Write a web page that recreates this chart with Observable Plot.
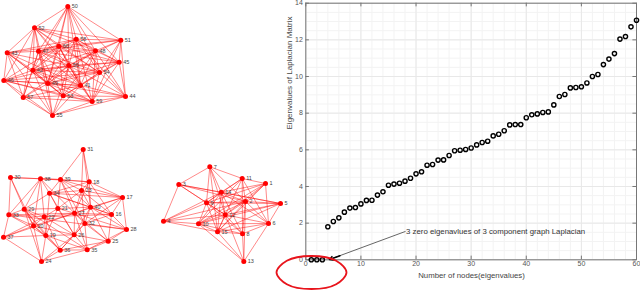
<!DOCTYPE html>
<html>
<head>
<meta charset="utf-8">
<script src="https://cdn.jsdelivr.net/npm/d3@7"></script>
<script src="https://cdn.jsdelivr.net/npm/@observablehq/plot@0.6"></script>
<style>
html,body{margin:0;padding:0;background:#fff}
#wrap{position:relative;width:640px;height:290px;overflow:hidden}
#wrap svg{position:absolute;left:0;top:0;background:transparent}
</style>
</head>
<body>
<div id="wrap"></div>
<script>
// Scatter: sorted Laplacian eigenvalues
const eigenvalues = [0,0,0,1.8,2.09,2.29,2.6,2.82,2.85,3.05,3.24,3.25,3.53,3.71,4.07,4.13,4.18,4.29,4.45,4.69,
  4.8,5.16,5.2,5.44,5.45,5.69,5.95,5.98,6.02,6.1,6.27,6.4,6.47,6.76,6.85,7.04,7.36,7.38,7.38,7.75,
  7.91,7.96,8.04,8.07,8.45,8.91,9.02,9.38,9.4,9.44,9.65,10.0,10.11,10.65,10.95,11.25,12.04,12.18,12.71,13.07];
const xTicks = [0,10,20,30,40,50,60];
const yTicks = [0,2,4,6,8,10,12,14];
const xMinor = d3.range(0,61,2);
const yMinor = d3.range(0,14.01,0.5);
const annotation = "3 zero eigenavlues of 3 component graph Laplacian";

// Network layout: node id, position on the drawing
const nodes = [
 [50,67.3,6],[52,34,27.3],[58,75.7,38.7],[51,120.3,39.7],[60,58.3,45.7],[47,38,50.7],[48,95,50.3],[43,6.7,52.3],[45,118.7,61.7],[56,68.3,65],
 [42,32.3,69.7],[54,99,72],[46,3.3,80],[49,47.3,83],[41,80,85],[57,22.7,97],[53,62.7,95.3],[44,125,96],[59,91.7,101],[55,52,115],
 [31,82.7,149],[30,10,177],[38,40,178.3],[39,60,179],[18,88.7,181.3],[23,81,190],[34,49,192.7],[17,122,197],[29,23.7,208.7],[21,57.3,208],
 [40,90,206.7],[28,126,229],[25,107.7,240.7],[16,111,214],[37,3,236.7],[24,41,261],[36,59.7,249.7],[35,86.7,249.3],[26,73.7,234.3],[32,84.3,223],
 [19,45.3,235],[20,33,225.3],[22,43.7,216.3],[33,8.3,214.3],[27,74,212.7],
 [7,209.3,166.3],[11,241.7,178],[1,265,183],[3,178.3,184],[14,220.7,191.7],[9,206,202.3],[2,245,201],[5,280,203],[12,224.7,214.3],[4,163,220.7],
 [10,198,223.3],[15,217,231.3],[8,242,233.3],[6,268,223],[13,243.3,261]
];
const edgesA = [
 [50,[52,47,60,58,56,48,51,45,41,49,54,42]],
 [52,[58,51,60,47,48,43,42,49,56,41,57,46,54]],
 [58,[51,60,47,48,45,56,42,54,41,44,49,59,43]],
 [51,[60,48,45,54,56,44,59,47]],
 [60,[47,48,45,43,56,42,41,49,54,59,53,46]],
 [47,[48,43,56,42,54,41,49,57,53,55,45]],
 [48,[45,56,54,41,44,59,49,42,53]],
 [43,[56,42,46,49,57,41,55,53]],
 [45,[56,54,41,44,59,42,49]],
 [56,[42,54,46,49,41,57,53,44,59,55]],
 [42,[54,46,49,41,57,53,55,59]],
 [54,[49,41,44,59,53,46]],
 [46,[49,41,57,53,55,59]],
 [49,[41,57,53,59,55,44]],
 [41,[57,53,44,59,55]],
 [57,[53,55,59]],
 [53,[59,55,44]],
 [44,[59,55]],
 [59,[55]]
];
const edgesB = [
 [31,[39,18,23,40]],
 [30,[38,33,29,20,39]],
 [38,[39,18,34,29,22,20,33,27]],
 [39,[18,23,34,21,40,27,17,32]],
 [18,[23,40,17,16,34,27]],
 [23,[34,40,27,17,32,16,21]],
 [34,[21,29,40,17,26,19,16]],
 [17,[40,16,28,27,32]],
 [29,[33,21,22,20,19,36,35]],
 [21,[22,27,26,19,40]],
 [40,[27,16,32,25,28,26]],
 [28,[16,25,35,32,27,33]],
 [25,[35,26,32,36,16,27]],
 [16,[27,32,22]],
 [37,[33,20,19,24,22,27]],
 [24,[20,19,36,35,26,29]],
 [36,[19,35,26,20,22,32]],
 [35,[26,32,19,27]],
 [26,[19,32,22,27,20]],
 [33,[20,22,27,19]],
 [20,[22,19,27]],
 [22,[27,19]],
 [27,[32]]
];
const edgesC = [
 [7,[3,11,14,9,12,15,2]],
 [11,[1,14,2,9,8,6,10,15]],
 [1,[14,2,9,12,10,6,15]],
 [3,[14,9,2,4,12,5]],
 [14,[9,2,12,15,10,5,8,6]],
 [9,[4,10,15,12,2,8,5]],
 [2,[5,6,10,12,15,8,4,13]],
 [5,[12,6,15,10]],
 [12,[10,15,8,13,6]],
 [4,[10,15,14,12]],
 [10,[15,6,13,8]],
 [15,[8,13,6]],
 [8,[6,13]],
 [6,[13]]
];
// Red ellipse annotation, outline stations on the drawing
const ringX = [346,335.7,311,286.3,276,286.3,311,335.7];
const ringY = [272,283.7,288.5,283.7,272,260.3,255.5,260.3];

const font = "Liberation Sans, Arial, Helvetica, sans-serif";
const table = eigenvalues.map((v,i)=>({n:i+1,v}));
const pos = new Map(nodes.map(d=>[d[0],d]));
const links = [...edgesA,...edgesB,...edgesC].flatMap(([s,ts])=>ts.map(t=>({a:pos.get(s),b:pos.get(t)})));

const chart = Plot.plot({
  width:640, height:290, marginLeft:305.3, marginRight:4, marginTop:2.7, marginBottom:30.7,
  style:{fontFamily:font, background:"transparent"},
  x:{domain:[0,60], label:null},
  y:{domain:[0,14], label:null},
  marks:[
    Plot.ruleX(xMinor,{stroke:"#f3f3f3",strokeWidth:1}),
    Plot.ruleY(yMinor,{stroke:"#f3f3f3",strokeWidth:1}),
    Plot.ruleX(xTicks,{stroke:"#e8e8e8",strokeWidth:1}),
    Plot.ruleY(yTicks,{stroke:"#e8e8e8",strokeWidth:1}),
    Plot.frame({stroke:"#777",strokeWidth:1}),
    Plot.ruleX(xTicks,{y1:0,y2:0.2,stroke:"#777"}),
    Plot.ruleX(xTicks,{y1:14,y2:13.8,stroke:"#777"}),
    Plot.ruleY(yTicks,{x1:0,x2:0.65,stroke:"#777"}),
    Plot.ruleY(yTicks,{x1:60,x2:59.35,stroke:"#777"}),
    Plot.axisX({ticks:xTicks,tickSize:0,tickPadding:1.5,fontSize:7,color:"#555",label:null}),
    Plot.axisY({ticks:yTicks,tickSize:0,tickPadding:3,fontSize:7,color:"#555",label:null}),
    Plot.link([{x1:18.1,y1:1.55,x2:4.6,y2:0.05}],{x1:"x1",y1:"y1",x2:"x2",y2:"y2",stroke:"#666",strokeWidth:1}),
    Plot.arrow([{x1:6.2,y1:0.22,x2:4.3,y2:0.02}],{x1:"x1",y1:"y1",x2:"x2",y2:"y2",stroke:"#000",strokeWidth:1.5,headLength:6}),
    Plot.dot(table,{x:"n",y:"v",r:2.1,stroke:"#000",strokeWidth:1.4,fill:"none"}),
    Plot.text([annotation],{x:18.2,y:1.55,textAnchor:"start",fontSize:7.8,fill:"#333"})
  ]
});

const layout = Plot.plot({
  width:640, height:290, margin:0,
  style:{fontFamily:font, background:"transparent"},
  x:{domain:[0,640], axis:null},
  y:{domain:[290,0], axis:null},
  marks:[
    Plot.link(links,{x1:d=>d.a[1],y1:d=>d.a[2],x2:d=>d.b[1],y2:d=>d.b[2],stroke:"#f00",strokeOpacity:0.55,strokeWidth:0.85}),
    Plot.dot(nodes,{x:d=>d[1],y:d=>d[2],r:2.5,fill:"#f00"}),
    Plot.text(nodes,{x:d=>d[1],y:d=>d[2],text:d=>String(d[0]),dx:4,textAnchor:"start",fontSize:5.5,fill:"#444"}),
    Plot.line(ringX.map((x,i)=>[x,ringY[i]]),{x:d=>d[0],y:d=>d[1],curve:"catmull-rom-closed",stroke:"#e8141c",strokeWidth:1.8,fill:"none"}),
    Plot.text(["Number of nodes(eigenvalues)"],{x:471,y:275,fontSize:7.8,fill:"#444"}),
    Plot.text(["Eigenvalues of Laplacian Matrix"],{x:289,y:72.5,rotate:-90,fontSize:8,fill:"#444"})
  ]
});
const wrap = document.getElementById("wrap");
wrap.append(chart);
wrap.append(layout);
</script>
</body>
</html>
